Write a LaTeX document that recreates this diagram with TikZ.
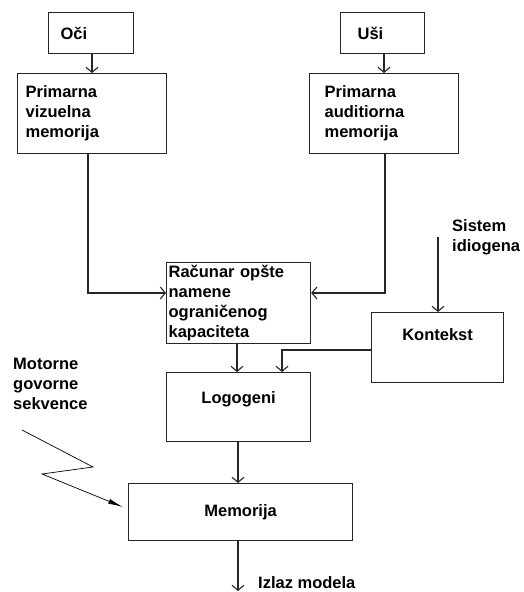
\documentclass[tikz,border=0pt]{standalone}
\usepackage{fontspec}
\setmainfont{Liberation Sans}
\usetikzlibrary{arrows.meta}
\begin{document}
\begin{tikzpicture}[x=1pt,y=-1pt,
  font=\bfseries\fontsize{16.5}{20}\selectfont,
  box/.style={draw=black!85, line width=1.2pt, rectangle, inner ysep=0pt},
  leftbox/.style={box, align=left},
  flow/.style={draw=black!85, line width=1.1pt, -{Straight Barb[length=5pt,width=12pt]}},
  zig/.style={draw=black, line width=0.7pt, -{Latex[length=15pt,width=5pt]}},
  plain/.style={inner sep=0pt, align=left}]
\useasboundingbox (0,0) rectangle (523,592);

% input boxes
\node[leftbox, anchor=north west, inner xsep=12pt, text width=61pt,
      minimum height=41pt] (oci) at (48,12) {Oči};
\node[leftbox, anchor=north west, inner xsep=17pt, text width=50pt,
      minimum height=41pt] (usi) at (340,12) {Uši};

% primary memories
\node[leftbox, anchor=north west, inner xsep=8pt, text width=133pt,
      minimum height=80pt] (vis) at (17,73) {Primarna\\vizuelna\\memorija};
\node[leftbox, anchor=north west, inner xsep=15pt, text width=119pt,
      minimum height=80pt] (aud) at (309,73) {Primarna\\auditiorna\\memorija};

% central processor
\node[leftbox, anchor=north west, inner xsep=2pt, text width=140pt,
      minimum height=81pt] (rac) at (166,262)
      {Računar opšte\\namene\\ograničenog\\kapaciteta};

% context
\node[box, anchor=north west, minimum width=132pt, text height=28pt,
      text depth=42pt] (kon) at (371,312) {Kontekst};
\node[plain, anchor=north west] (sis) at (452,219) {Sistem\\idiogena};
\coordinate (sisin) at (438,237);

% logogens and memory
\node[box, anchor=north west, minimum width=144pt, text height=31pt,
      text depth=38pt] (logo) at (166,372) {Logogeni};
\node[box, anchor=north west, minimum width=224pt,
      minimum height=57pt] (mem) at (128,483) {Memorija};

% motor speech sequences
\node[plain, anchor=north west] (mot) at (13,358) {Motorne\\govorne\\sekvence};
\coordinate (z0) at (22,430);
\coordinate (z1) at (93,467);
\coordinate (z2) at (42,474);
\coordinate (z3) at (123,507);

% output
\coordinate (out) at (238,591);
\node[plain, anchor=west] (izl) at (258,583) {Izlaz modela};

% connectors
\draw[flow] (oci.south -| 92,0) -- (vis.north -| 92,0);
\draw[flow] (usi.south -| 384,0) -- (aud.north -| 384,0);
\draw[flow] (vis.south -| 88,0) |- (rac.west |- 0,293);
\draw[flow] (aud.south -| 385,0) |- (rac.east |- 0,293);
\draw[flow] (sisin) -- (kon.north -| sisin);
\draw[flow] (rac.south -| 237,0) -- (logo.north -| 237,0);
\draw[flow] (kon.west |- 0,350) -| (logo.north -| 282,0);
\draw[flow] (logo.south -| 238,0) -- (mem.north -| 238,0);
\draw[flow] (mem.south -| out) -- (out);
\draw[zig] (z0) -- (z1) -- (z2) -- (z3);
\end{tikzpicture}
\end{document}
